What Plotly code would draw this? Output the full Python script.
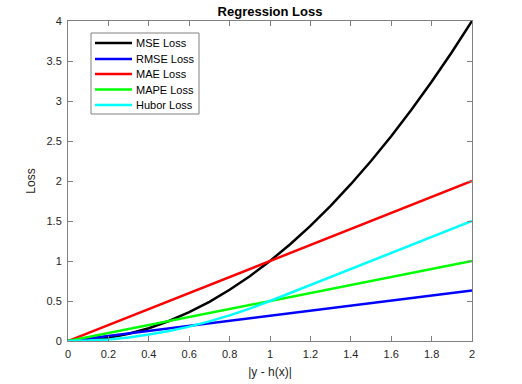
import plotly.graph_objects as go

x_vals = [0.0, 0.1, 0.2, 0.3, 0.4, 0.5, 0.6, 0.7, 0.8, 0.9, 1.0,
          1.1, 1.2, 1.3, 1.4, 1.5, 1.6, 1.7, 1.8, 1.9, 2.0]
mse = [0.0, 0.01, 0.04, 0.09, 0.16, 0.25, 0.36, 0.49, 0.64, 0.81, 1.0,
       1.21, 1.44, 1.69, 1.96, 2.25, 2.56, 2.89, 3.24, 3.61, 4.0]
rmse = [0.0, 0.032, 0.063, 0.095, 0.126, 0.158, 0.19, 0.221, 0.253, 0.285, 0.316,
        0.348, 0.379, 0.411, 0.443, 0.474, 0.506, 0.538, 0.569, 0.601, 0.632]
mae = [0.0, 0.1, 0.2, 0.3, 0.4, 0.5, 0.6, 0.7, 0.8, 0.9, 1.0,
       1.1, 1.2, 1.3, 1.4, 1.5, 1.6, 1.7, 1.8, 1.9, 2.0]
mape = [0.0, 0.05, 0.1, 0.15, 0.2, 0.25, 0.3, 0.35, 0.4, 0.45, 0.5,
        0.55, 0.6, 0.65, 0.7, 0.75, 0.8, 0.85, 0.9, 0.95, 1.0]
huber = [0.0, 0.005, 0.02, 0.045, 0.08, 0.125, 0.18, 0.245, 0.32, 0.405, 0.5,
         0.6, 0.7, 0.8, 0.9, 1.0, 1.1, 1.2, 1.3, 1.4, 1.5]

series_names = ["MSE Loss", "RMSE Loss", "MAE Loss", "MAPE Loss", "Hubor Loss"]
series_values = [mse, rmse, mae, mape, huber]
series_colors = ["#000000", "#0000ff", "#ff0000", "#00ff00", "#00ffff"]

x_ticks = [0, 0.2, 0.4, 0.6, 0.8, 1, 1.2, 1.4, 1.6, 1.8, 2]
x_tick_text = ["0", "0.2", "0.4", "0.6", "0.8", "1", "1.2", "1.4", "1.6", "1.8", "2"]
y_ticks = [0, 0.5, 1, 1.5, 2, 2.5, 3, 3.5, 4]
y_tick_text = ["0", "0.5", "1", "1.5", "2", "2.5", "3", "3.5", "4"]

W, H = 522, 384
L, R, T, B = 68, 50, 21, 43
PW, PH = W - L - R, H - T - B


def px_x(p):
    return (p - L) / PW


def px_y(p):
    return (H - B - p) / PH


fig = go.Figure()
for name, ys, col in zip(series_names, series_values, series_colors):
    fig.add_trace(go.Scatter(x=x_vals, y=ys, mode="lines", name=name, showlegend=False,
                             line=dict(color=col, width=2.5)))

font_family = "Liberation Sans, Arial, sans-serif"
axis_common = dict(showgrid=False, zeroline=False, showline=True, linecolor="#808080",
                   linewidth=1, mirror="ticks", ticks="inside", ticklen=5,
                   tickcolor="#808080", ticklabelstandoff=3, automargin=False,
                   tickfont=dict(family=font_family, size=11, color="#262626"))

# legend drawn manually (box, sample lines, labels)
shapes = [dict(type="rect", xref="paper", yref="paper",
               x0=px_x(91), x1=px_x(199), y0=px_y(114), y1=px_y(33),
               line=dict(color="#808080", width=1), fillcolor="white", layer="above")]
annotations = []
leg_y = [43, 59, 74, 89.5, 105]
for name, col, yy in zip(series_names, series_colors, leg_y):
    shapes.append(dict(type="line", xref="paper", yref="paper",
                       x0=px_x(95), x1=px_x(132), y0=px_y(yy), y1=px_y(yy),
                       line=dict(color=col, width=2.5), layer="above"))
    annotations.append(dict(text=name, xref="paper", yref="paper", x=px_x(134), y=px_y(yy),
                            xanchor="left", yanchor="middle", showarrow=False,
                            font=dict(family=font_family, size=11, color="#000000")))

fig.update_layout(
    width=W, height=H,
    margin=dict(l=L, r=R, t=T, b=B, autoexpand=False),
    paper_bgcolor="white", plot_bgcolor="white",
    title=dict(text="<b>Regression Loss</b>", x=0.5, xref="paper", y=1 - 11 / H, yanchor="middle",
               font=dict(family=font_family, size=13, color="#000000")),
    xaxis=dict(range=[0, 2], tickvals=x_ticks, ticktext=x_tick_text,
               title=dict(text="|y - h(x)|", standoff=8,
                          font=dict(family=font_family, size=12, color="#262626")),
               **axis_common),
    yaxis=dict(range=[0, 4], tickvals=y_ticks, ticktext=y_tick_text,
               title=dict(text="Loss", standoff=8,
                          font=dict(family=font_family, size=12, color="#262626")),
               **axis_common),
    shapes=shapes,
    annotations=annotations,
    showlegend=False,
)

fig.write_html("out.html", config={"displayModeBar": False},
               post_script="document.body.style.margin='0';")
